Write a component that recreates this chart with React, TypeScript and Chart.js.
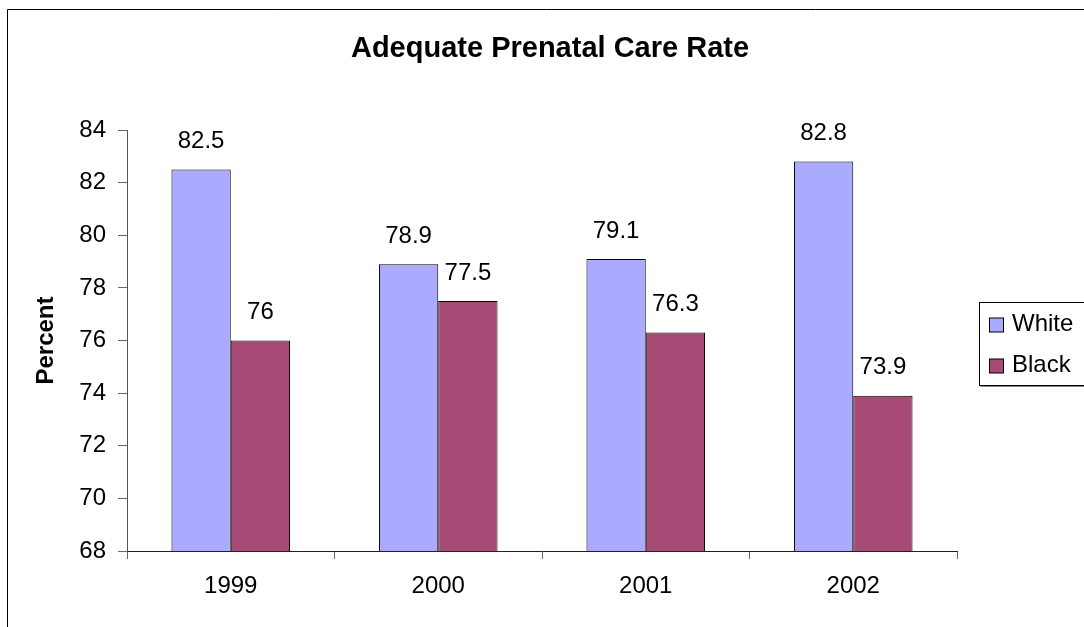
import React, { useEffect, useRef } from 'react';
import { Chart, registerables } from 'chart.js';

Chart.register(...registerables);

const TITLE = 'Adequate Prenatal Care Rate';
const Y_TITLE = 'Percent';
const categories = ['1999', '2000', '2001', '2002'];
const seriesNames = ['White', 'Black'];
const whiteValues = [82.5, 78.9, 79.1, 82.8];
const blackValues = [76, 77.5, 76.3, 73.9];
const yMin = 68;
const yMax = 84;
const yStep = 2;

const FONT = "'Liberation Sans', Arial, sans-serif";
const WHITE_COLOR = '#AAAAFF';
const BLACK_COLOR = '#A84A76';

const framePlugin = {
  id: 'frame',
  beforeDraw(chart: any) {
    const ctx = chart.ctx;
    ctx.save();
    ctx.fillStyle = '#fff';
    ctx.fillRect(0, 0, chart.width, chart.height);
    ctx.strokeStyle = '#000';
    ctx.lineWidth = 1;
    ctx.beginPath();
    ctx.moveTo(7.5, chart.height + 5);
    ctx.lineTo(7.5, 9.5);
    ctx.lineTo(chart.width + 5, 9.5);
    ctx.stroke();
    ctx.restore();
  },
};

const titlePlugin = {
  id: 'excelTitle',
  afterDraw(chart: any) {
    const ctx = chart.ctx;
    ctx.save();
    ctx.fillStyle = '#000';
    ctx.font = `bold 29px ${FONT}`;
    ctx.textAlign = 'center';
    ctx.textBaseline = 'middle';
    ctx.fillText(TITLE, 550, 49);
    ctx.restore();
  },
};

const dataLabelPlugin = {
  id: 'dataLabels',
  afterDatasetsDraw(chart: any) {
    const ctx = chart.ctx;
    ctx.save();
    ctx.fillStyle = '#000';
    ctx.font = `24px ${FONT}`;
    ctx.textAlign = 'center';
    ctx.textBaseline = 'middle';
    chart.data.datasets.forEach((ds: any, di: number) => {
      const meta = chart.getDatasetMeta(di);
      meta.data.forEach((bar: any, i: number) => {
        ctx.fillText(String(ds.data[i]), bar.x, bar.y - 28);
      });
    });
    ctx.restore();
  },
};

const legendPlugin = {
  id: 'excelLegend',
  afterDraw(chart: any) {
    const ctx = chart.ctx;
    ctx.save();
    const bx = 979.5;
    const by = 302.5;
    const bh = 83;
    ctx.strokeStyle = '#000';
    ctx.lineWidth = 1;
    ctx.strokeRect(bx, by, 200, bh);
    ctx.strokeStyle = '#888';
    ctx.beginPath();
    ctx.moveTo(bx + 1, by + bh + 1);
    ctx.lineTo(bx + 200, by + bh + 1);
    ctx.stroke();
    ctx.font = `24px ${FONT}`;
    ctx.textAlign = 'left';
    ctx.textBaseline = 'middle';
    chart.data.datasets.forEach((ds: any, i: number) => {
      const cy = 325 + i * 41;
      ctx.fillStyle = ds.backgroundColor;
      ctx.fillRect(989.5, cy - 7, 14, 14);
      ctx.strokeStyle = '#000';
      ctx.strokeRect(989.5, cy - 7, 14, 14);
      ctx.fillStyle = '#000';
      ctx.fillText(ds.label, 1012, cy - 1);
    });
    ctx.restore();
  },
};

export default function App() {
  const canvasRef = useRef<HTMLCanvasElement | null>(null);

  useEffect(() => {
    if (!canvasRef.current) return;
    const chart = new Chart(canvasRef.current, {
      type: 'bar',
      data: {
        labels: categories,
        datasets: [
          {
            label: seriesNames[0],
            data: whiteValues,
            backgroundColor: WHITE_COLOR,
            borderColor: '#000',
            borderWidth: 1,
          },
          {
            label: seriesNames[1],
            data: blackValues,
            backgroundColor: BLACK_COLOR,
            borderColor: '#000',
            borderWidth: 1,
          },
        ],
      },
      options: {
        responsive: false,
        animation: false,
        devicePixelRatio: 1,
        layout: { padding: { left: 0, right: 127, top: 130, bottom: 26 } },
        datasets: {
          bar: { categoryPercentage: 0.5714, barPercentage: 1 },
        },
        plugins: {
          legend: { display: false },
          title: { display: false },
          tooltip: { enabled: false },
        },
        scales: {
          x: {
            afterFit(scale: any) {
              scale.height = 50;
            },
            grid: {
              offset: true,
              drawOnChartArea: false,
              tickLength: 8,
              color: '#666',
            },
            border: { color: '#222', width: 1 },
            ticks: {
              color: '#000',
              font: { family: FONT, size: 24 },
              padding: 13,
              maxRotation: 0,
            },
          },
          y: {
            min: yMin,
            max: yMax,
            afterFit(scale: any) {
              scale.width = 127;
            },
            grid: {
              drawOnChartArea: false,
              tickLength: 9,
              color: '#666',
            },
            border: { color: '#555', width: 1 },
            ticks: {
              stepSize: yStep,
              color: '#000',
              font: { family: FONT, size: 24 },
              padding: 12,
            },
            title: {
              display: true,
              text: Y_TITLE,
              color: '#000',
              font: { family: FONT, size: 24, weight: 'bold' },
              padding: { top: 32, bottom: 0 },
            },
          },
        },
      },
      plugins: [framePlugin, dataLabelPlugin, titlePlugin, legendPlugin],
    } as any);
    return () => chart.destroy();
  }, []);

  return (
    <div style={{ position: 'fixed', left: 0, top: 0, width: 1084, height: 627, overflow: 'hidden' }}>
      <canvas ref={canvasRef} width={1084} height={627} style={{ display: 'block' }} />
    </div>
  );
}
